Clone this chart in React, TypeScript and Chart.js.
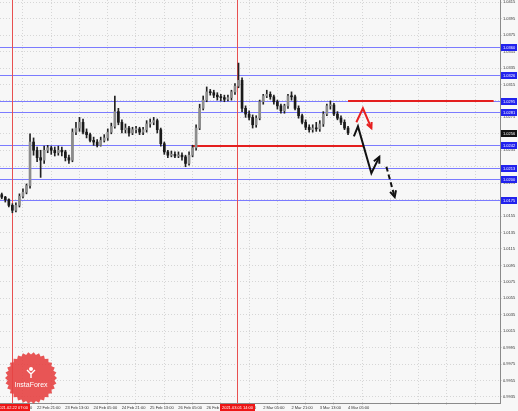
import React, { useEffect, useRef } from 'react';
import { Chart, registerables } from 'chart.js';

Chart.register(...registerables);

// ---- candle data (2-hour candles) ----
const opens = [1.0181,1.0178,1.0175,1.0168,1.0162,1.0168,1.0179,1.0184,1.0192,1.0245,
1.0235,1.0226,1.0223,1.0235,1.0238,1.0235,1.0232,1.0235,1.0233,1.0226,
1.0223,1.0257,1.0262,1.0269,1.0257,1.0254,1.0247,1.0245,1.0241,1.0247,
1.0250,1.0257,1.0264,1.0282,1.0269,1.0260,1.0262,1.0256,1.0260,1.0261,
1.0257,1.0260,1.0267,1.0269,1.0271,1.0260,1.0243,1.0233,1.0229,1.0230,
1.0228,1.0229,1.0227,1.0219,1.0229,1.0238,1.0262,1.0286,1.0296,1.0306,
1.0305,1.0302,1.0300,1.0299,1.0297,1.0299,1.0306,1.0313,1.0320,1.0286,
1.0279,1.0275,1.0266,1.0274,1.0294,1.0301,1.0303,1.0300,1.0294,1.0289,
1.0283,1.0289,1.0301,1.0300,1.0286,1.0277,1.0269,1.0263,1.0260,1.0262,
1.0261,1.0267,1.0279,1.0289,1.0290,1.0279,1.0274,1.0269,1.0262];

const closes = [1.0178,1.0175,1.0168,1.0162,1.0168,1.0179,1.0184,1.0192,1.0245,1.0235,
1.0226,1.0223,1.0235,1.0238,1.0235,1.0232,1.0235,1.0233,1.0226,1.0223,
1.0257,1.0262,1.0269,1.0257,1.0254,1.0247,1.0245,1.0241,1.0247,1.0250,
1.0257,1.0264,1.0282,1.0269,1.0260,1.0262,1.0256,1.0260,1.0261,1.0257,
1.0260,1.0267,1.0269,1.0271,1.0260,1.0243,1.0233,1.0229,1.0230,1.0228,
1.0229,1.0227,1.0219,1.0229,1.0238,1.0262,1.0286,1.0296,1.0306,1.0305,
1.0302,1.0300,1.0299,1.0297,1.0299,1.0306,1.0313,1.0320,1.0286,1.0279,
1.0275,1.0266,1.0274,1.0294,1.0301,1.0303,1.0300,1.0294,1.0289,1.0283,
1.0289,1.0301,1.0300,1.0286,1.0277,1.0269,1.0263,1.0260,1.0262,1.0261,
1.0267,1.0279,1.0289,1.0290,1.0279,1.0274,1.0269,1.0262,1.0256];

const highs = [1.0183,1.0179,1.0176,1.0170,1.0171,1.0182,1.0188,1.0194,1.0255,1.0250,
1.0239,1.0235,1.0240,1.0241,1.0240,1.0239,1.0240,1.0239,1.0235,1.0229,
1.0261,1.0269,1.0275,1.0273,1.0261,1.0256,1.0251,1.0248,1.0251,1.0254,
1.0261,1.0268,1.0301,1.0286,1.0272,1.0267,1.0264,1.0263,1.0264,1.0263,
1.0263,1.0271,1.0273,1.0275,1.0273,1.0262,1.0245,1.0235,1.0234,1.0233,
1.0233,1.0232,1.0229,1.0233,1.0241,1.0266,1.0291,1.0301,1.0312,1.0309,
1.0308,1.0305,1.0303,1.0302,1.0302,1.0308,1.0316,1.0341,1.0323,1.0289,
1.0283,1.0278,1.0277,1.0296,1.0303,1.0308,1.0306,1.0302,1.0296,1.0291,
1.0291,1.0303,1.0306,1.0302,1.0289,1.0279,1.0272,1.0266,1.0266,1.0269,
1.0271,1.0282,1.0291,1.0295,1.0292,1.0282,1.0277,1.0272,1.0264];

const lows = [1.0176,1.0172,1.0166,1.0159,1.0160,1.0166,1.0177,1.0182,1.0189,1.0229,
1.0221,1.0202,1.0219,1.0232,1.0230,1.0228,1.0229,1.0228,1.0222,1.0219,
1.0221,1.0254,1.0258,1.0255,1.0250,1.0245,1.0241,1.0239,1.0240,1.0245,
1.0247,1.0255,1.0262,1.0266,1.0256,1.0256,1.0252,1.0254,1.0256,1.0254,
1.0254,1.0257,1.0263,1.0266,1.0256,1.0240,1.0230,1.0226,1.0227,1.0226,
1.0226,1.0223,1.0215,1.0217,1.0227,1.0235,1.0260,1.0284,1.0294,1.0302,
1.0299,1.0296,1.0295,1.0294,1.0295,1.0296,1.0303,1.0311,1.0282,1.0275,
1.0272,1.0262,1.0263,1.0272,1.0291,1.0299,1.0297,1.0291,1.0285,1.0280,
1.0280,1.0286,1.0296,1.0284,1.0274,1.0267,1.0260,1.0257,1.0257,1.0258,
1.0258,1.0264,1.0277,1.0285,1.0277,1.0272,1.0266,1.0260,1.0254];

// candle time position in hours from the left edge of the chart (2h candles)
const candleHours = opens.map((_, i) => 1 + 2 * i);

// ---- axes ----
const yTickValues = [1.0415,1.0395,1.0375,1.0355,1.0335,1.0315,1.0295,1.0275,1.0255,1.0235,1.0215,1.0195,1.0175,1.0155,1.0135,1.0115,1.0095,1.0075,1.0055,1.0035,1.0015,0.9995,0.9975,0.9955,0.9935];
const xTickHours = [4.94,20.94,36.94,52.94,68.94,84.94,100.94,116.94,132.94,148.94,164.94,180.94,196.94,212.94,228.94,244.94,260.94,276.94];
const xTickLabels = ['22 Feb 05:00','22 Feb 21:00','23 Feb 13:00','24 Feb 05:00','24 Feb 21:00','25 Feb 13:00','26 Feb 05:00','26 Feb 21:00','1 Mar 13:00','2 Mar 05:00','2 Mar 21:00','3 Mar 13:00','4 Mar 05:00'];
const X_MIN = 0, X_MAX = 283;
const Y_MIN = 0.99277, Y_MAX = 1.04177;

// ---- annotations ----
const levelPrices = [1.0360, 1.0326, 1.0295, 1.0281, 1.0242, 1.0213, 1.0200, 1.0175];
const currentPrice = 1.0256;
const redSegFrom = [197, 108.5];
const redSegTo = [279.4, 205.8];
const redSegPrice = [1.0295, 1.0240];
const markerHours = [6.6, 134.3];
const markerLabels = ['2021.02.22 07:00', '2021.03.01 14:00'];
const blackPathHours = [200.3, 202.6, 210.2, 214.7];
const blackPathPrices = [1.0252, 1.0264, 1.0207, 1.0227];
const dashedPathHours = [218.7, 223.4];
const dashedPathPrices = [1.0215, 1.0178];
const redPathHours = [201.7, 205.4, 210.2];
const redPathPrices = [1.0269, 1.0286, 1.0262];

const FONT = '"Liberation Sans", "DejaVu Sans", sans-serif';

function arrowHead(ctx: CanvasRenderingContext2D, x1: number, y1: number, x2: number, y2: number, len: number) {
  const ang = Math.atan2(y2 - y1, x2 - x1);
  ctx.beginPath();
  ctx.moveTo(x2 - len * Math.cos(ang - 0.45), y2 - len * Math.sin(ang - 0.45));
  ctx.lineTo(x2, y2);
  ctx.lineTo(x2 - len * Math.cos(ang + 0.45), y2 - len * Math.sin(ang + 0.45));
  ctx.stroke();
}

const overlay = {
  id: 'overlay',
  beforeDraw(chart: any) {
    const { ctx, width, height } = chart;
    ctx.save();
    ctx.fillStyle = '#f7f7f7';
    ctx.fillRect(0, 0, width, height);
    ctx.restore();
  },
  beforeDatasetsDraw(chart: any) {
    const { ctx, chartArea: a, scales } = chart;
    const x = scales.x, y = scales.y;
    ctx.save();
    ctx.lineWidth = 1;
    ctx.strokeStyle = '#7b7bff';
    levelPrices.forEach((p) => {
      const py = Math.round(y.getPixelForValue(p)) + 0.5;
      ctx.beginPath(); ctx.moveTo(a.left, py); ctx.lineTo(a.right, py); ctx.stroke();
    });
    ctx.strokeStyle = '#e85050';
    markerHours.forEach((h) => {
      const px = Math.round(x.getPixelForValue(h)) + 0.5;
      ctx.beginPath(); ctx.moveTo(px, a.top); ctx.lineTo(px, a.bottom); ctx.stroke();
    });
    ctx.strokeStyle = '#e41e1e';
    ctx.lineWidth = 2;
    redSegPrice.forEach((p, i) => {
      const py = Math.round(y.getPixelForValue(p));
      ctx.beginPath();
      ctx.moveTo(x.getPixelForValue(redSegFrom[i]), py);
      ctx.lineTo(x.getPixelForValue(redSegTo[i]), py);
      ctx.stroke();
    });
    ctx.restore();
  },
  afterDatasetsDraw(chart: any) {
    const { ctx, scales } = chart;
    const x = scales.x, y = scales.y;
    ctx.save();
    ctx.lineWidth = 2;
    ctx.strokeStyle = '#111';
    ctx.beginPath();
    blackPathHours.forEach((h, i) => {
      const px = x.getPixelForValue(h), py = y.getPixelForValue(blackPathPrices[i]);
      if (i === 0) ctx.moveTo(px, py); else ctx.lineTo(px, py);
    });
    ctx.stroke();
    const n = blackPathHours.length;
    arrowHead(ctx, x.getPixelForValue(blackPathHours[n - 2]), y.getPixelForValue(blackPathPrices[n - 2]),
      x.getPixelForValue(blackPathHours[n - 1]), y.getPixelForValue(blackPathPrices[n - 1]), 7);
    ctx.setLineDash([5, 3]);
    ctx.beginPath();
    ctx.moveTo(x.getPixelForValue(dashedPathHours[0]), y.getPixelForValue(dashedPathPrices[0]));
    ctx.lineTo(x.getPixelForValue(dashedPathHours[1]), y.getPixelForValue(dashedPathPrices[1]));
    ctx.stroke();
    ctx.setLineDash([]);
    arrowHead(ctx, x.getPixelForValue(dashedPathHours[0]), y.getPixelForValue(dashedPathPrices[0]),
      x.getPixelForValue(dashedPathHours[1]), y.getPixelForValue(dashedPathPrices[1]), 7);
    ctx.strokeStyle = '#e62020';
    ctx.beginPath();
    redPathHours.forEach((h, i) => {
      const px = x.getPixelForValue(h), py = y.getPixelForValue(redPathPrices[i]);
      if (i === 0) ctx.moveTo(px, py); else ctx.lineTo(px, py);
    });
    ctx.stroke();
    const m = redPathHours.length;
    arrowHead(ctx, x.getPixelForValue(redPathHours[m - 2]), y.getPixelForValue(redPathPrices[m - 2]),
      x.getPixelForValue(redPathHours[m - 1]), y.getPixelForValue(redPathPrices[m - 1]), 6);
    ctx.restore();
  },
  afterDraw(chart: any) {
    const { ctx, chartArea: a, scales, width, height } = chart;
    const x = scales.x, y = scales.y;
    ctx.save();
    ctx.font = `4px ${FONT}`;
    ctx.textBaseline = 'middle';
    ctx.textAlign = 'left';
    levelPrices.forEach((p) => {
      const py = Math.round(y.getPixelForValue(p)) + 0.5;
      ctx.fillStyle = '#2222ee';
      ctx.fillRect(a.right + 1, py - 3.5, width - a.right - 2, 7);
      ctx.fillStyle = '#fff';
      ctx.fillText(p.toFixed(4), a.right + 3, py);
    });
    {
      const py = Math.round(y.getPixelForValue(currentPrice)) + 0.5;
      ctx.fillStyle = '#111';
      ctx.fillRect(a.right + 1, py - 3.5, width - a.right - 2, 7);
      ctx.fillStyle = '#fff';
      ctx.fillText(currentPrice.toFixed(4), a.right + 3, py);
    }
    // InstaForex seal
    const cx = 31, cy = 378, R = 26, r = 23.5, pts = 30;
    ctx.beginPath();
    for (let k = 0; k < pts * 2; k++) {
      const ang = (k * Math.PI) / pts;
      const rad = k % 2 === 0 ? R : r;
      const px = cx + rad * Math.cos(ang), py = cy + rad * Math.sin(ang);
      if (k === 0) ctx.moveTo(px, py); else ctx.lineTo(px, py);
    }
    ctx.closePath();
    ctx.fillStyle = 'rgba(230,66,66,0.9)';
    ctx.fill();
    ctx.fillStyle = '#fff';
    ctx.strokeStyle = '#fff';
    ctx.lineWidth = 1.4;
    ctx.beginPath(); ctx.arc(cx, cy - 9, 2, 0, Math.PI * 2); ctx.fill();
    ctx.beginPath();
    ctx.moveTo(cx - 4, cy - 8); ctx.lineTo(cx, cy - 4); ctx.lineTo(cx + 4, cy - 8);
    ctx.moveTo(cx, cy - 4); ctx.lineTo(cx, cy);
    ctx.stroke();
    ctx.font = `7px ${FONT}`;
    ctx.textAlign = 'center';
    ctx.fillText('InstaForex', cx, cy + 7);
    ctx.font = `4px ${FONT}`;
    markerHours.forEach((h, i) => {
      const px = Math.round(x.getPixelForValue(h)) + 0.5;
      ctx.fillStyle = '#ee1515';
      ctx.fillRect(px - 17.5, a.bottom + 1, 35, height - a.bottom - 1);
      ctx.fillStyle = '#fff';
      ctx.fillText(markerLabels[i], px, a.bottom + 4.5);
    });
    ctx.restore();
  },
};

export default function App() {
  const ref = useRef<HTMLCanvasElement>(null);
  useEffect(() => {
    document.body.style.margin = '0';
    const bodyColors = opens.map((o, i) => (closes[i] >= o ? '#8c8c8c' : '#1a1a1a'));
    const chart = new Chart(ref.current as HTMLCanvasElement, {
      type: 'bar',
      data: {
        datasets: [
          {
            label: 'wick',
            data: candleHours.map((h, i) => ({ x: h, y: [lows[i], highs[i]] })) as any,
            backgroundColor: '#222',
            borderWidth: 0,
            barThickness: 1,
            grouped: false,
            order: 2,
          } as any,
          {
            label: 'body',
            data: candleHours.map((h, i) => ({ x: h, y: [opens[i], closes[i]] })) as any,
            backgroundColor: bodyColors,
            borderWidth: 0,
            barThickness: 2,
            minBarLength: 1,
            grouped: false,
            order: 1,
          } as any,
        ],
      },
      options: {
        animation: false,
        responsive: false,
        maintainAspectRatio: false,
        layout: { padding: 0 },
        plugins: { legend: { display: false }, tooltip: { enabled: false } },
        scales: {
          x: {
            type: 'linear',
            min: X_MIN,
            max: X_MAX,
            offset: false,
            grid: { color: '#d6d6d6', tickLength: 2, drawTicks: true },
            border: { display: true, color: '#8a8a8a', dash: [1, 2] },
            afterBuildTicks: (s: any) => { s.ticks = xTickHours.map((v) => ({ value: v })); },
            afterFit: (s: any) => { s.height = 8; s.paddingLeft = 0; s.paddingRight = 0; },
            ticks: {
              autoSkip: false,
              maxRotation: 0,
              minRotation: 0,
              align: 'start',
              padding: 0,
              color: '#333',
              font: { size: 4, family: FONT },
              callback: (_v: any, idx: number) => xTickLabels[idx] ?? '',
            },
          },
          y: {
            type: 'linear',
            position: 'right',
            min: Y_MIN,
            max: Y_MAX,
            grid: { color: '#d6d6d6', tickLength: 2 },
            border: { display: true, color: '#8a8a8a', dash: [1, 2] },
            afterBuildTicks: (s: any) => { s.ticks = yTickValues.map((v) => ({ value: v })); },
            afterFit: (s: any) => { s.width = 18; s.paddingTop = 0; s.paddingBottom = 0; },
            ticks: {
              autoSkip: false,
              padding: 1,
              color: '#333',
              font: { size: 4, family: FONT },
              callback: (v: any) => Number(v).toFixed(4),
            },
          },
        },
      } as any,
      plugins: [overlay],
    });
    return () => chart.destroy();
  }, []);
  return (
    <div style={{ width: 518, height: 411 }}>
      <canvas ref={ref} width={518} height={411} style={{ display: 'block' }} />
    </div>
  );
}
